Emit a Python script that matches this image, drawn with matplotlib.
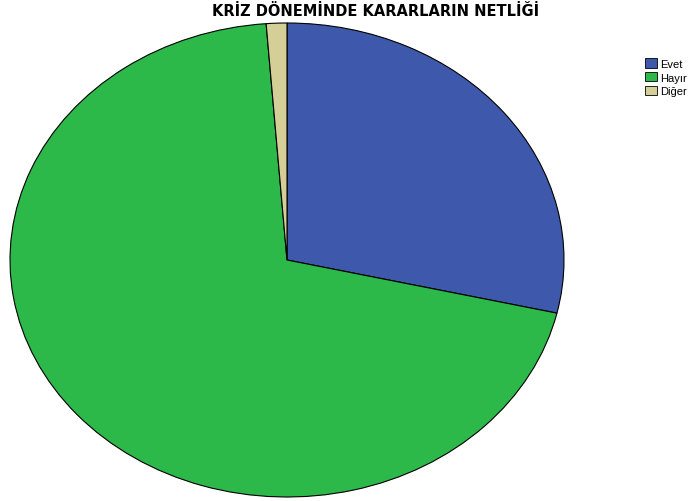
import matplotlib.pyplot as plt
from matplotlib.patches import Patch

# data
labels = ["Evet", "Hayır", "Diğer"]
values = [28.6, 70.2, 1.2]
colors = ["#3e58ac", "#2db84a", "#d4cf96"]

plt.rcParams["font.family"] = ["Liberation Sans", "DejaVu Sans"]

fig = plt.figure(figsize=(6.88, 5.02), dpi=100)
ax = fig.add_axes([10 / 688, 4 / 502, 554 / 688, 474 / 502])

ax.pie(values, colors=colors, startangle=90, counterclock=False,
       wedgeprops=dict(edgecolor="black", linewidth=0.8))
ax.set_aspect("auto")
ax.set_xlim(-1, 1)
ax.set_ylim(-1, 1)
ax.axis("off")

fig.text(376 / 688, 1 - 11 / 502, "KRİZ DÖNEMİNDE KARARLARIN NETLİĞİ",
         ha="center", va="center", fontsize=10.5, fontweight="bold",
         family="DejaVu Sans")

handles = [Patch(facecolor=c, edgecolor="black", linewidth=0.6) for c in colors]
fig.legend(handles, labels, loc="upper left", bbox_to_anchor=(641 / 688, 1 - 55 / 502),
           frameon=False, fontsize=8, handlelength=1.0, handleheight=0.9,
           handletextpad=0.3, labelspacing=0.3, borderaxespad=0)

fig.savefig("out.png", dpi=100)
